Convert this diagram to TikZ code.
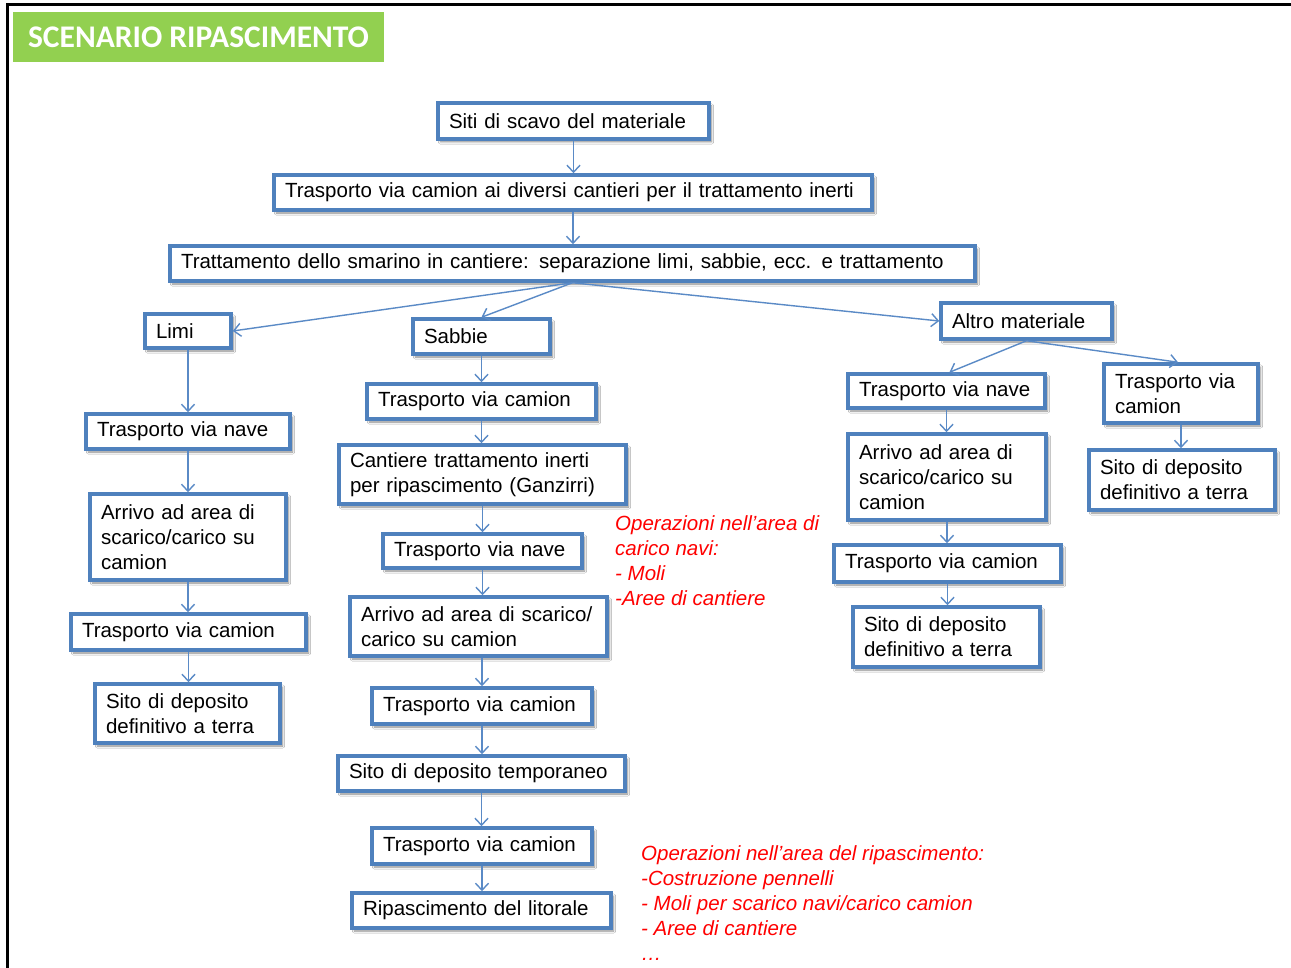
\documentclass[tikz,border=0pt]{standalone}
\usepackage{fontspec}
\setmainfont{Liberation Sans}
\newfontfamily\titlefont{Carlito}
\usetikzlibrary{arrows.meta,shadows.blur}
\definecolor{bblue}{HTML}{4F81BD}
\definecolor{ablue}{HTML}{5A8AC6}
\definecolor{tgreen}{HTML}{92D050}
\tikzset{
  bx/.style n args={2}{draw=bblue, line width=3.5pt, fill=white, text width=#1pt, minimum height=#2pt,
    inner xsep=11pt, inner ysep=2pt, align=left, font=\fontsize{20.5}{25}\selectfont,
    blur shadow={shadow xshift=2.5pt, shadow yshift=-3pt, shadow blur steps=5, shadow opacity=45}},
  arr/.style={draw=ablue, line width=1.4pt, -{Straight Barb[length=7pt,width=13pt]}},
  note/.style={text=red, align=left, anchor=north west, inner sep=0pt, font=\fontsize{20.5}{25}\selectfont\itshape}
}
\begin{document}
\begin{tikzpicture}[x=1pt,y=-1pt]
\useasboundingbox (0,0) rectangle (1291,968);
\fill[white] (0,0) rectangle (1291,968);
\draw[line width=3pt] (7,970) -- (7,5) -- (1292,5);
\node[fill=tgreen, minimum width=371pt, minimum height=50pt, inner sep=0pt, text=white,
  font=\titlefont\bfseries\fontsize{31.5}{33}\selectfont] (title) at (198.5,37) {SCENARIO RIPASCIMENTO};

% main trunk
\node[bx={249}{36}] (n1) at (573.5,121) {Siti di scavo del materiale};
\node[bx={576}{35}] (n2) at (573,192.5) {Trasporto via camion ai diversi cantieri per il trattamento inerti};
\node[bx={783}{35}] (n3) at (572.5,263.5) {Trattamento dello smarino in cantiere: separazione limi, sabbie, ecc. e trattamento};
\node[bx={64}{34}] (limi) at (188,331) {Limi};
\node[bx={115}{35}] (sabbie) at (481.5,336.5) {Sabbie};
\node[bx={149}{36}] (altro) at (1026.5,321) {Altro materiale};

% Limi column
\node[bx={182}{35}] (l1) at (188,431.5) {Trasporto via nave};
\node[bx={174}{86}] (l2) at (188,537) {Arrivo ad area di\\scarico/carico su\\camion};
\node[bx={213}{36}] (l3) at (188.5,632) {Trasporto via camion};
\node[bx={163}{59}] (l4) at (187.5,713.5) {Sito di deposito\\definitivo a terra};

% Sabbie column
\node[bx={207}{35}] (s1) at (481.5,401.5) {Trasporto via camion};
\node[bx={265}{59}] (s2) at (482.5,474.5) {Cantiere trattamento inerti\\per ripascimento (Ganzirri)};
\node[bx={177}{34}] (s3) at (482.5,551) {Trasporto via nave};
\node[bx={235}{59}] (s4) at (478.5,626.5) {Arrivo ad area di scarico/\\carico su camion};
\node[bx={198}{36}] (s5) at (482,706) {Trasporto via camion};
\node[bx={265}{35}] (s6) at (481.5,773.5) {Sito di deposito temporaneo};
\node[bx={198}{36}] (s7) at (482,846) {Trasporto via camion};
\node[bx={237}{35}] (s8) at (481.5,910.5) {Ripascimento del litorale};

% Altro left column
\node[bx={175}{34}] (a1) at (946.5,391) {Trasporto via nave};
\node[bx={176}{86}] (a2) at (947,477) {Arrivo ad area di\\scarico/carico su\\camion};
\node[bx={205}{37}] (a3) at (947.5,563.5) {Trasporto via camion};
\node[bx={165}{60}] (a4) at (946.5,637) {Sito di deposito\\definitivo a terra};

% Altro right column
\node[bx={132}{59}] (b1) at (1181,393.5) {Trasporto via\\camion};
\node[bx={164}{60}] (b2) at (1182,480) {Sito di deposito\\definitivo a terra};

% notes
\node[note] (note1) at (615,515.5) {Operazioni nell’area di\\carico navi:\\- Moli\\-Aree di cantiere};
\node[note] (note2) at (641,845) {Operazioni nell’area del ripascimento:\\-Costruzione pennelli\\- Moli per scarico navi/carico camion\\- Aree di cantiere\\\dots};

% connectors
\draw[arr] (n1.south) -- (n1.south |- n2.north);
\draw[arr] (n2.south) -- (n2.south |- n3.north);
\draw[arr] (n3.south) -- (limi.east);
\draw[arr] (n3.south) -- (sabbie.north);
\draw[arr] (n3.south) -- (altro.west);

\draw[arr] (limi.south) -- (limi.south |- l1.north);
\draw[arr] (l1.south) -- (l1.south |- l2.north);
\draw[arr] (l2.south) -- (l2.south |- l3.north);
\draw[arr] (l3.south) -- (l3.south |- l4.north);

\draw[arr] (sabbie.south) -- (sabbie.south |- s1.north);
\draw[arr] (s1.south) -- (s1.south |- s2.north);
\draw[arr] (s2.south) -- (s2.south |- s3.north);
\draw[arr] (s3.south) -- (s3.south |- s4.north);
\draw[arr] (s5.north |- s4.south) -- (s5.north);
\draw[arr] (s5.south) -- (s5.south |- s6.north);
\draw[arr] (s6.south) -- (s6.south |- s7.north);
\draw[arr] (s7.south) -- (s7.south |- s8.north);

\draw[arr] (altro.south) -- ([xshift=3pt]a1.north);
\draw[arr] (altro.south) -- ([xshift=-3pt]b1.north);
\draw[arr] (a1.south) -- (a1.south |- a2.north);
\draw[arr] (a2.south) -- (a2.south |- a3.north);
\draw[arr] (a3.south) -- (a3.south |- a4.north);
\draw[arr] (b1.south) -- (b1.south |- b2.north);
\end{tikzpicture}
\end{document}
